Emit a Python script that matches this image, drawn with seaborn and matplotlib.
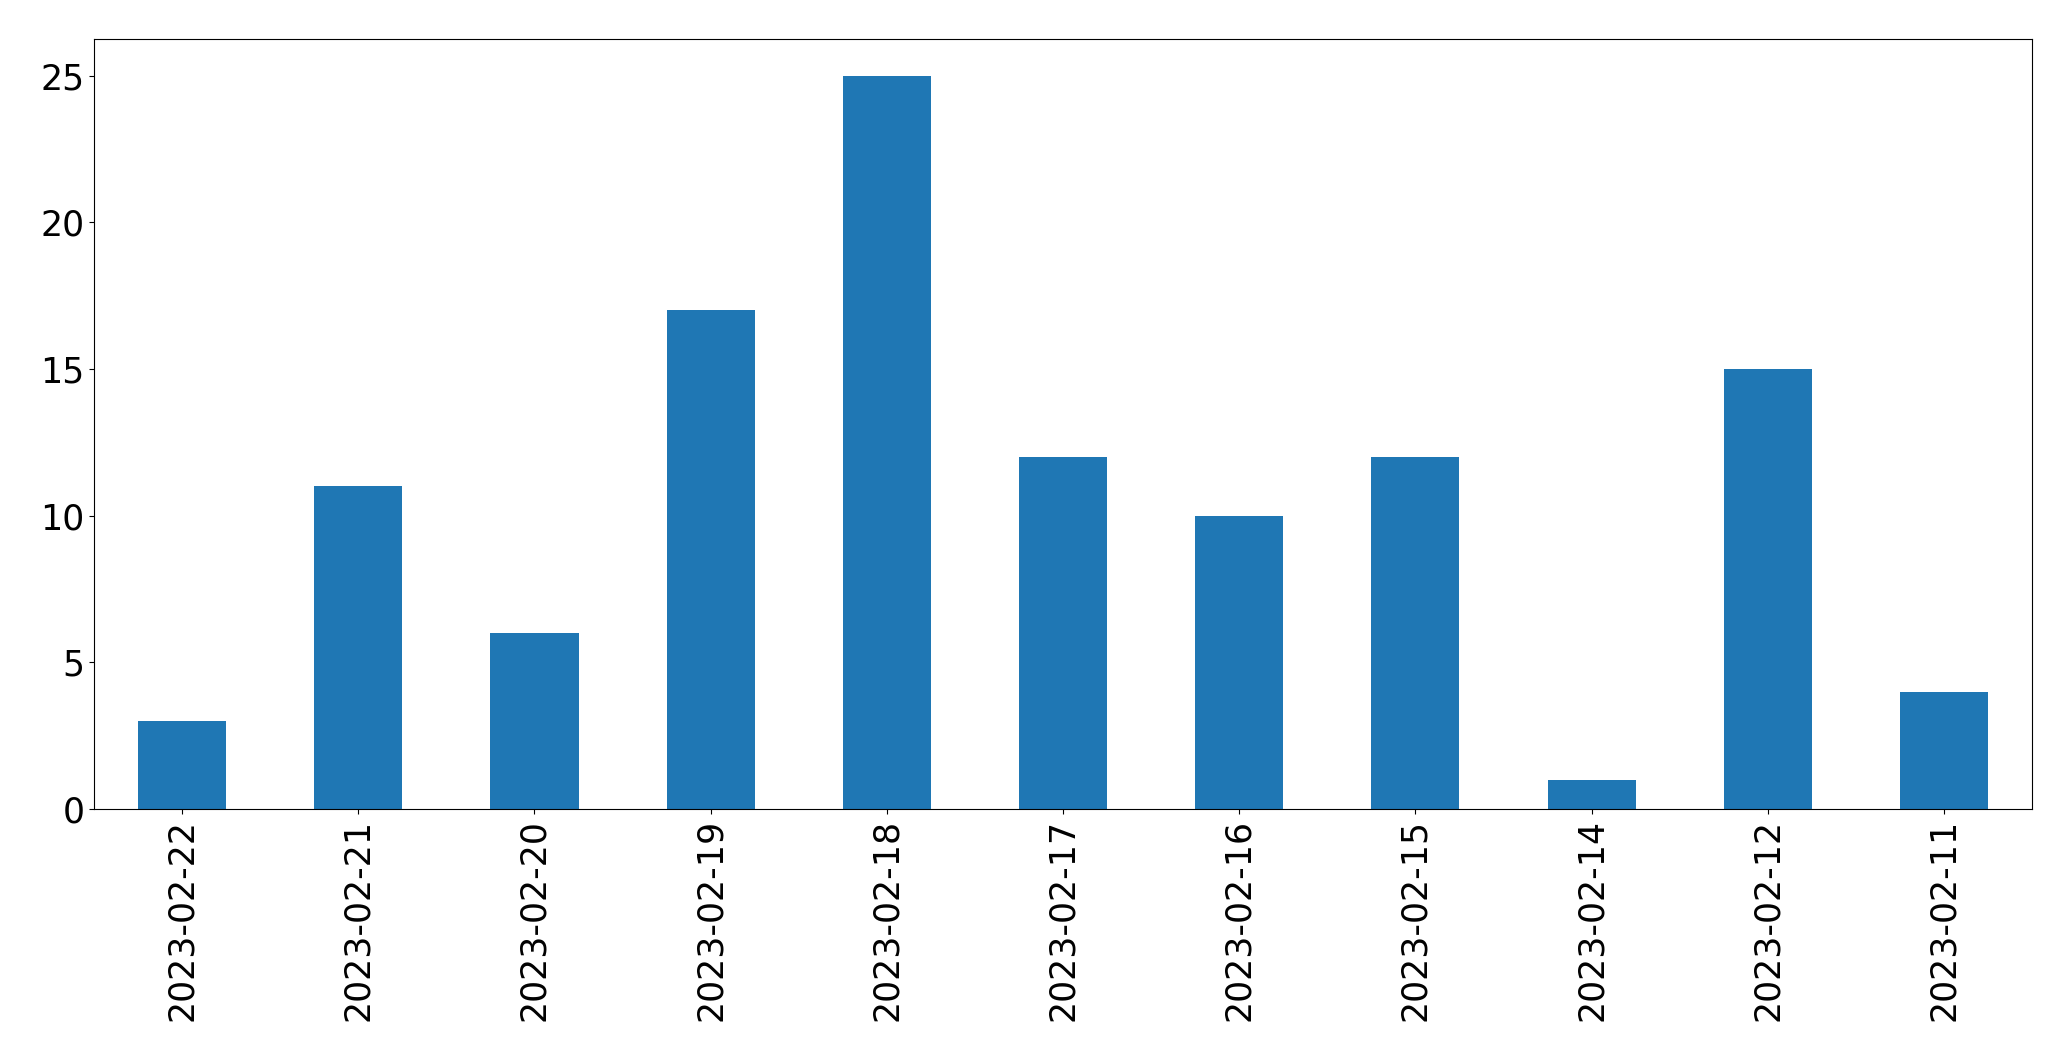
import matplotlib
matplotlib.use('Agg')
import matplotlib.pyplot as plt
import seaborn as sns

# data
dates = ['2023-02-22', '2023-02-21', '2023-02-20', '2023-02-19', '2023-02-18',
         '2023-02-17', '2023-02-16', '2023-02-15', '2023-02-14', '2023-02-12',
         '2023-02-11']
counts = [3, 11, 6, 17, 25, 12, 10, 12, 1, 15, 4]

fig = plt.figure(figsize=(20.71, 10.61), dpi=100)
ax = fig.add_axes([0.0454, 0.2375, 0.9358, 0.7257])

sns.barplot(x=dates, y=counts, order=dates, color='#1f77b4', saturation=1,
            width=0.5, ax=ax)

ax.set_xlim(-0.5, len(dates) - 0.5)
ax.set_ylim(0, 26.25)
ax.set_yticks([0, 5, 10, 15, 20, 25])
ax.tick_params(axis='both', labelsize=25)
ax.tick_params(axis='x', labelrotation=90)
ax.set_xlabel('')
ax.set_ylabel('')

fig.savefig('out.png', dpi=100)
